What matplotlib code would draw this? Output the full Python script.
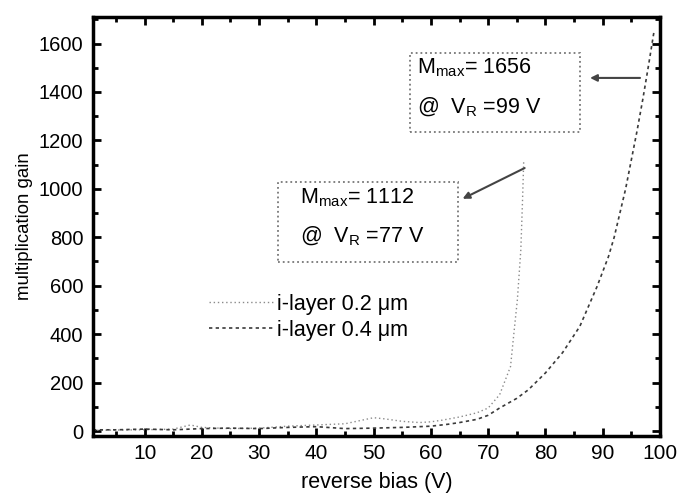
import matplotlib
matplotlib.use('Agg')
import matplotlib.pyplot as plt
from matplotlib.patches import Rectangle
from matplotlib.ticker import MultipleLocator

plt.rcParams['font.family'] = ['Liberation Sans', 'DejaVu Sans']
plt.rcParams['mathtext.fontset'] = 'custom'
plt.rcParams['mathtext.rm'] = 'Liberation Sans'
plt.rcParams['mathtext.it'] = 'Liberation Sans'

# i-layer 0.2 um
bias_02 = [1, 5, 10, 15, 18, 20, 25, 30, 35, 40, 45, 48, 50, 52, 55, 58, 60, 62,
           65, 68, 70, 72, 73.9, 74.5, 75.1, 75.7, 76.0, 76.2]
gain_02 = [3, 4, 5, 8, 25, 15, 10, 12, 20, 25, 30, 45, 55, 50, 40, 35, 38, 45,
           58, 75, 95, 150, 266, 406, 543, 748, 954, 1112]

# i-layer 0.4 um
bias_04 = [1, 5, 10, 15, 20, 25, 30, 35, 40, 45, 50, 55, 60, 63, 65, 68, 70, 72,
           75, 77, 80, 83, 86, 89, 91, 92, 94, 95, 96, 97, 98, 99]
gain_04 = [5, 5, 8, 5, 10, 12, 10, 15, 18, 10, 12, 15, 20, 28, 35, 48, 65, 95,
           135, 170, 240, 324, 432, 596, 720, 800, 1000, 1120, 1240, 1370, 1510, 1656]

labels = ['i-layer 0.2 \u03bcm', 'i-layer 0.4 \u03bcm']

fig = plt.figure(figsize=(6.79, 4.97), dpi=100)
ax = fig.add_subplot(111)
fig.subplots_adjust(left=0.137, right=0.972, top=0.966, bottom=0.123)

ax.plot(bias_02, gain_02, color='#8a8a8a', lw=1.0, ls=(0, (1, 2)), label=labels[0])
ax.plot(bias_04, gain_04, color='#3a3a3a', lw=1.2, ls=(0, (2, 2)), label=labels[1])

ax.set_xlim(1, 100)
ax.set_ylim(-20, 1710)
ax.xaxis.set_major_locator(MultipleLocator(10))
ax.xaxis.set_minor_locator(MultipleLocator(5))
ax.yaxis.set_major_locator(MultipleLocator(200))
ax.yaxis.set_minor_locator(MultipleLocator(100))
ax.tick_params(which='both', direction='in', top=True, right=True, width=2)
ax.tick_params(which='major', length=6)
ax.tick_params(which='minor', length=3.5)
ax.tick_params(axis='x', labelsize=15, pad=6)
ax.tick_params(axis='y', labelsize=14.5, pad=7)
for s in ax.spines.values():
    s.set_linewidth(2.5)

ax.set_xlabel('reverse bias (V)', fontsize=15.5, labelpad=6)
ax.set_ylabel('multiplication gain', fontsize=13.4, labelpad=4)

ax.legend(loc='upper left', bbox_to_anchor=(0.19, 0.36), frameon=False,
          fontsize=15.5, handlelength=3.0, handletextpad=0.15, labelspacing=0.25,
          borderaxespad=0)

# annotation boxes
for x0, x1, y0, y1 in [(56.35, 86.0, 1235, 1561), (33.3, 64.7, 698, 1029)]:
    ax.add_patch(Rectangle((x0, y0), x1 - x0, y1 - y0, fill=False,
                           ec='#777777', ls=':', lw=1.3))

ax.text(57.6, 1499, 'M$_{\\mathrm{max}}$= 1656', fontsize=15.5, va='center')
ax.text(57.6, 1338, '@  V$_{\\mathrm{R}}$ =99 V', fontsize=15.5, va='center')
ax.text(37.1, 963, 'M$_{\\mathrm{max}}$= 1112', fontsize=15.5, va='center')
ax.text(37.1, 802, '@  V$_{\\mathrm{R}}$ =77 V', fontsize=15.5, va='center')

arrow = dict(arrowstyle='-|>', color='#444444', lw=1.5, mutation_scale=10)
ax.annotate('', xy=(87.3, 1458), xytext=(97.0, 1458), arrowprops=arrow)
ax.annotate('', xy=(65.1, 954), xytext=(76.8, 1091), arrowprops=arrow)

fig.savefig('out.png', dpi=100)
